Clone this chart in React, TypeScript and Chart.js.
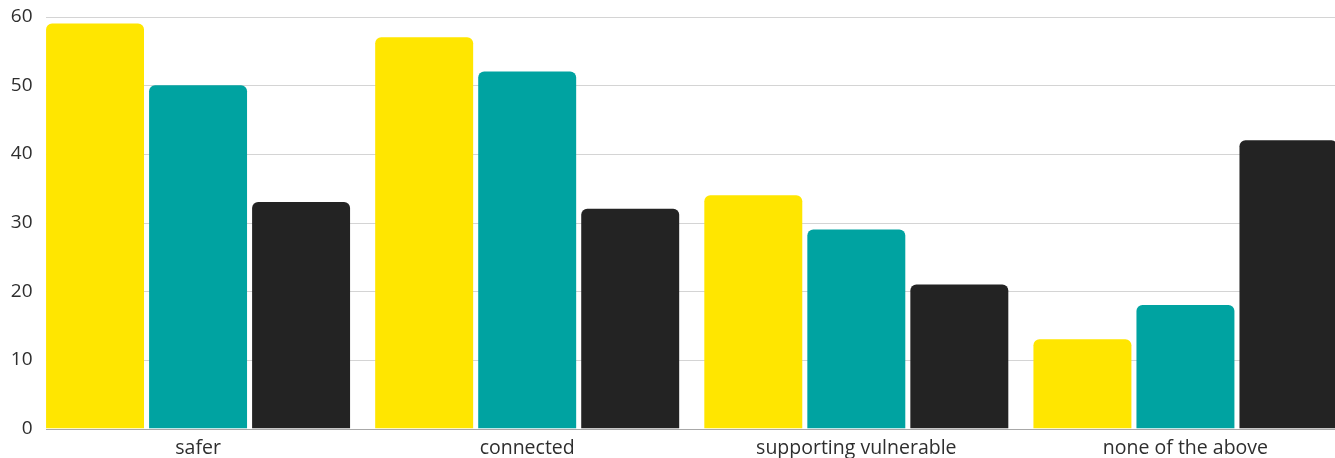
import React, { useEffect, useRef } from "react";
import { Chart, registerables } from "chart.js";

Chart.register(...registerables);

const categories = ["safer", "connected", "supporting vulnerable", "none of the above"];
const seriesNames = ["Group A", "Group B", "Group C"];
const seriesA = [59, 57, 34, 13];
const seriesB = [50, 52, 29, 18];
const seriesC = [33, 32, 21, 42];
const yMin = 0;
const yMax = 60;
const yStep = 10;

const colors = ["#FFE600", "#00A3A1", "#232323"];
const FONT = "'Open Sans', 'Noto Sans', sans-serif";

const gridPlugin = {
  id: "customGrid",
  beforeDatasetsDraw(chart: any) {
    const { ctx, chartArea, scales } = chart;
    const meta = chart.getDatasetMeta(0);
    const first = meta.data[0] as any;
    if (!first) return;
    const startX = Math.round(first.x - first.width / 2);
    const y = scales.y;
    ctx.save();
    ctx.strokeStyle = "#d4d4d4";
    ctx.lineWidth = 1;
    y.ticks.forEach((t: any) => {
      if (t.value === 0) return;
      const py = Math.round(y.getPixelForValue(t.value)) + 0.5;
      ctx.beginPath();
      ctx.moveTo(startX, py);
      ctx.lineTo(chartArea.right, py);
      ctx.stroke();
    });
    ctx.restore();
  },
  afterDatasetsDraw(chart: any) {
    const { ctx, chartArea, scales } = chart;
    const meta = chart.getDatasetMeta(0);
    const first = meta.data[0] as any;
    if (!first) return;
    const startX = Math.round(first.x - first.width / 2);
    const py = Math.round(scales.y.getPixelForValue(0)) + 0.5;
    ctx.save();
    ctx.strokeStyle = "#a8a8a8";
    ctx.lineWidth = 1;
    ctx.beginPath();
    ctx.moveTo(startX, py);
    ctx.lineTo(chartArea.right, py);
    ctx.stroke();
    ctx.restore();
  },
};

export default function App() {
  const ref = useRef<HTMLCanvasElement | null>(null);

  useEffect(() => {
    if (!ref.current) return;
    const series = [seriesA, seriesB, seriesC];
    const chart = new Chart(ref.current, {
      type: "bar",
      data: {
        labels: categories,
        datasets: series.map((d, i) => ({
          label: seriesNames[i],
          data: d,
          backgroundColor: colors[i],
          borderWidth: 0,
          borderRadius: { topLeft: 6, topRight: 6, bottomLeft: 0, bottomRight: 0 },
          borderSkipped: "bottom",
          categoryPercentage: 0.939,
          barPercentage: 0.951,
        })),
      },
      options: {
        responsive: false,
        animation: false,
        layout: { padding: 0 },
        plugins: {
          legend: { display: false },
          tooltip: { enabled: false },
        },
        scales: {
          x: {
            grid: { display: false, drawTicks: false },
            border: { display: false },
            ticks: {
              color: "#2e2e2e",
              padding: 8,
              font: { family: FONT, size: 19.5, lineHeight: 1.2 },
              maxRotation: 0,
            },
          },
          y: {
            min: yMin,
            max: yMax,
            grid: { drawOnChartArea: false, drawTicks: false, display: false },
            border: { display: false },
            afterFit: (scale: any) => {
              scale.width = 25.5;
            },
            ticks: {
              stepSize: yStep,
              color: "#2e2e2e",
              padding: 1,
              font: { family: FONT, size: 19, lineHeight: 0.8 },
            },
          },
        },
      },
      plugins: [gridPlugin],
    });
    return () => chart.destroy();
  }, []);

  return (
    <div
      style={{
        position: "absolute",
        left: 8,
        top: 8,
        width: 1327,
        height: 450,
        overflow: "hidden",
      }}
    >
      <canvas ref={ref} width={1342} height={460} style={{ display: "block" }} />
    </div>
  );
}
